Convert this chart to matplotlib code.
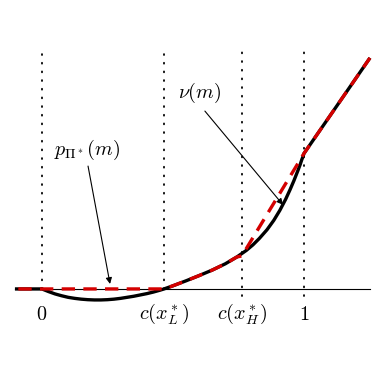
import matplotlib
matplotlib.use("Agg")
import matplotlib.pyplot as plt

plt.rcParams['mathtext.fontset'] = 'cm'
plt.rcParams['font.family'] = ['DejaVu Serif']

# Black curve nu(m)
nu_x = [-0.103, 0.0, 0.025, 0.05, 0.075, 0.1, 0.125, 0.15, 0.175, 0.2, 0.225, 0.25,
        0.275, 0.3, 0.325, 0.35, 0.375, 0.4, 0.425, 0.45, 0.466,
        0.5, 0.55, 0.6, 0.65, 0.7, 0.744, 0.78, 0.805, 0.83, 0.859, 0.885, 0.908,
        0.93, 0.947, 0.962, 0.977, 0.986, 0.992, 0.997, 1.0, 1.252]
nu_y = [0.0, 0.0, -0.010, -0.019, -0.026, -0.032, -0.036, -0.039, -0.041, -0.042, -0.042, -0.041,
        -0.039, -0.036, -0.032, -0.028, -0.023, -0.018, -0.012, -0.005, 0.0,
        0.012, 0.031, 0.051, 0.072, 0.096, 0.122, 0.147, 0.168, 0.193, 0.226, 0.262, 0.300,
        0.342, 0.379, 0.414, 0.452, 0.476, 0.494, 0.507, 0.517, 0.882]

# Red dashed curve p_{Pi*}(m)
p_x = [-0.09, 0.0, 0.466, 0.5, 0.55, 0.6, 0.65, 0.7, 0.744, 0.763, 1.0, 1.252]
p_y = [0.0, 0.0, 0.0, 0.012, 0.031, 0.051, 0.072, 0.096, 0.122, 0.126, 0.517, 0.882]

tick_pos = [0.0, 0.466, 0.763, 1.0]
tick_labels = [r'$0$', r'$c(x_L^*)$', r'$c(x_H^*)$', r'$1$']
dot_bottom = [0.0, 0.0, -0.027, -0.027]

fig = plt.figure(figsize=(3.76, 3.67), dpi=100)
ax = fig.add_axes([0, 0, 1, 1])
ax.set_xlim(-0.160, 1.275)
ax.set_ylim(-0.298, 1.103)
ax.axis('off')

# horizontal axis
ax.plot([-0.103, 1.252], [0, 0], color='black', lw=0.8, zorder=1)

# dotted verticals
for xp, yb in zip(tick_pos, dot_bottom):
    ax.plot([xp, xp], [yb, 0.905], color='black', lw=1.3,
            linestyle=(0, (0.5, 4.3)), dash_capstyle='round', zorder=1)

ax.plot(nu_x, nu_y, color='black', lw=2.4, zorder=2, solid_capstyle='butt',
        solid_joinstyle='round')
ax.plot(p_x, p_y, color='#d40000', lw=2.4, linestyle=(0, (4, 2.5)), zorder=3)

for xp, lab in zip(tick_pos, tick_labels):
    ax.text(xp, -0.097, lab, ha='center', va='center', fontsize=14.5)

ax.text(0.603, 0.748, r'$\nu(m)$', ha='center', va='center', fontsize=14.5)
ax.text(0.172, 0.53, r'$p_{\Pi^*}(m)$', ha='center', va='center', fontsize=14.5)

ax.annotate('', xy=(0.920, 0.321), xytext=(0.622, 0.679),
            arrowprops=dict(arrowstyle='-|>', color='black', lw=0.8,
                            mutation_scale=9, shrinkA=0, shrinkB=0))
ax.annotate('', xy=(0.260, 0.019), xytext=(0.176, 0.469),
            arrowprops=dict(arrowstyle='-|>', color='black', lw=0.8,
                            mutation_scale=9, shrinkA=0, shrinkB=0))

fig.savefig('out.png', dpi=100)
